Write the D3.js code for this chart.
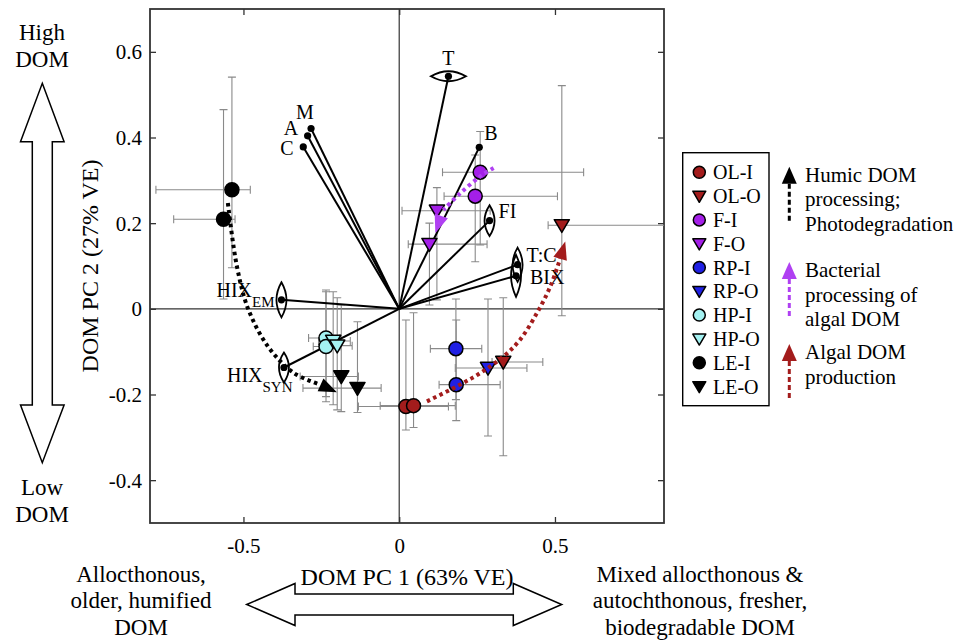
<!DOCTYPE html>
<html>
<head>
<meta charset="utf-8">
<script src="https://cdn.jsdelivr.net/npm/d3@7"></script>
<style>
  body { margin: 0; background: #fff; }
  svg { display: block; }
  text { font-family: "Liberation Serif", "Times New Roman", serif; fill: #000; }
</style>
</head>
<body>
<svg id="chart" width="958" height="640"></svg>
<script>
// ---------- data ----------
const pc1Domain = [-0.8, 0.85];
const pc2Domain = [-0.5, 0.7];
const pc1Ticks = [-0.5, 0, 0.5];
const pc1TickLabels = ["-0.5", "0", "0.5"];
const pc2Ticks = [-0.4, -0.2, 0, 0.2, 0.4, 0.6];
const pc2TickLabels = ["-0.4", "-0.2", "0", "0.2", "0.4", "0.6"];

// site groups (inlet "-I" / outlet "-O")
const groupNames = ["OL-I", "OL-O", "F-I", "F-O", "RP-I", "RP-O", "HP-I", "HP-O", "LE-I", "LE-O"];

// sample scores: mean and error-bar limits on PC1 / PC2
const scoreGroup = ["OL-I", "OL-I", "OL-O", "OL-O", "F-I", "F-I", "F-O", "F-O",
                    "RP-I", "RP-I", "RP-O", "HP-I", "HP-I", "HP-O", "HP-O",
                    "LE-I", "LE-I", "LE-O", "LE-O"];
const scorePC1   = [0.0215, 0.046, 0.334, 0.522, 0.260, 0.244, 0.121, 0.097,
                    0.182, 0.183, 0.285, -0.235, -0.235, -0.212, -0.199,
                    -0.537, -0.564, -0.186, -0.134];
const scorePC2   = [-0.228, -0.226, -0.124, 0.195, 0.319, 0.263, 0.229, 0.151,
                    -0.093, -0.177, -0.138, -0.068, -0.088, -0.075, -0.086,
                    0.278, 0.209, -0.158, -0.185];
const scorePC1Lo = [-0.131, -0.061, 0.298, 0.478, 0.139, 0.144, 0.009, 0.029,
                    0.100, 0.128, 0.180, -0.291, -0.276, -0.259, -0.253,
                    -0.781, -0.724, -0.318, -0.309];
const scorePC1Hi = [0.158, 0.180, 0.461, 0.950, 0.592, 0.508, 0.292, 0.282,
                    0.265, 0.324, 0.410, -0.190, -0.190, -0.157, -0.151,
                    -0.478, -0.527, -0.131, -0.058];
const scorePC2Lo = [-0.283, -0.277, -0.343, -0.016, 0.149, 0.110, 0.021, 0.009,
                    -0.212, -0.261, -0.297, -0.205, -0.217, -0.224, -0.236,
                    0.096, 0.023, -0.240, -0.242];
const scorePC2Hi = [-0.026, -0.009, 0.026, 0.521, 0.414, 0.359, 0.283, 0.200,
                    0.023, -0.026, 0.023, 0.044, 0.040, 0.040, 0.026,
                    0.541, 0.465, 0.009, -0.030];

// DOM metric loadings and their uncertainty
const loadingNames = ["T", "B", "M", "A", "C", "FI", "T:C", "BIX", "HIX_EM", "HIX_SYN"];
const loadingPC1   = [0.158, 0.257, -0.283, -0.294, -0.308, 0.290, 0.380, 0.375, -0.378, -0.370];
const loadingPC2   = [0.543, 0.377, 0.421, 0.404, 0.378, 0.206, 0.103, 0.077, 0.021, -0.137];
const loadingErrPC1 = [0.056, 0, 0, 0, 0, 0, 0, 0, 0, 0];
const loadingErrPC2 = [0, 0, 0, 0, 0, 0.036, 0.040, 0.049, 0.041, 0.035];

// process trajectories (last point is the arrow tip)
const humicPathPC1 = [-0.550, -0.521, -0.484, -0.421, -0.340, -0.254, -0.200];
const humicPathPC2 = [0.247, 0.099, -0.002, -0.088, -0.149, -0.177, -0.195];
const bacterialPathPC1 = [0.303, 0.260, 0.196, 0.142, 0.116];
const bacterialPathPC2 = [0.329, 0.309, 0.270, 0.231, 0.177];
const algalPathPC1 = [0.089, 0.185, 0.260, 0.335, 0.388, 0.442, 0.485, 0.517, 0.533];
const algalPathPC2 = [-0.216, -0.181, -0.150, -0.111, -0.072, -0.010, 0.052, 0.118, 0.157];

const processLabels = [
  ["Humic DOM", "processing;", "Photodegradation"],
  ["Bacterial", "processing of", "algal DOM"],
  ["Algal DOM", "production"]
];

// ---------- styles ----------
const groupFill = { "OL": "#a31c1c", "F": "#a41fe8", "RP": "#2020e4", "HP": "#a4f2f2", "LE": "#000000" };
const processColor = ["#000000", "#b040f2", "#a31c1c"];
const serif = '"Liberation Serif", "Times New Roman", serif';

// ---------- layout ----------
const svg = d3.select("#chart");
svg.append("rect").attr("width", 958).attr("height", 640).attr("fill", "#fff");

const plot = { left: 150, right: 664, top: 9, bottom: 523 };
const x = d3.scaleLinear().domain(pc1Domain).range([plot.left, plot.right]);
const y = d3.scaleLinear().domain(pc2Domain).range([plot.bottom, plot.top]);

svg.append("defs").append("clipPath").attr("id", "plotClip")
  .append("rect")
  .attr("x", plot.left).attr("y", plot.top)
  .attr("width", plot.right - plot.left).attr("height", plot.bottom - plot.top);

// zero lines
svg.append("line")
  .attr("x1", x(0)).attr("x2", x(0)).attr("y1", plot.top).attr("y2", plot.bottom)
  .attr("stroke", "#333").attr("stroke-width", 1.2);
svg.append("line")
  .attr("x1", plot.left).attr("x2", plot.right).attr("y1", y(0)).attr("y2", y(0))
  .attr("stroke", "#333").attr("stroke-width", 1.2);

// axes with inward ticks on all sides
function styleAxis(g) {
  g.select(".domain").remove();
  g.selectAll(".tick line").attr("stroke", "#333").attr("stroke-width", 1.3);
  g.selectAll(".tick text").attr("font-family", serif).attr("font-size", 21).attr("fill", "#000");
}
const xAxisB = svg.append("g").attr("transform", `translate(0,${plot.bottom})`)
  .call(d3.axisBottom(x).tickValues(pc1Ticks).tickSizeInner(-6).tickSizeOuter(0)
        .tickFormat((d, i) => pc1TickLabels[i]));
styleAxis(xAxisB);
xAxisB.selectAll(".tick text").attr("y", 30).attr("dy", 0);

const xAxisT = svg.append("g").attr("transform", `translate(0,${plot.top})`)
  .call(d3.axisTop(x).tickValues(pc1Ticks).tickSizeInner(-6).tickSizeOuter(0).tickFormat(""));
styleAxis(xAxisT);

const yAxisL = svg.append("g").attr("transform", `translate(${plot.left},0)`)
  .call(d3.axisLeft(y).tickValues(pc2Ticks).tickSizeInner(-6).tickSizeOuter(0)
        .tickFormat((d, i) => pc2TickLabels[i]));
styleAxis(yAxisL);
yAxisL.selectAll(".tick text").attr("x", -8).attr("dy", "0.34em");

const yAxisR = svg.append("g").attr("transform", `translate(${plot.right},0)`)
  .call(d3.axisRight(y).tickValues(pc2Ticks).tickSizeInner(-6).tickSizeOuter(0).tickFormat(""));
styleAxis(yAxisR);

// frame
svg.append("rect")
  .attr("x", plot.left).attr("y", plot.top)
  .attr("width", plot.right - plot.left).attr("height", plot.bottom - plot.top)
  .attr("fill", "none").attr("stroke", "#333").attr("stroke-width", 1.8);

// axis titles
svg.append("text")
  .attr("x", (plot.left + plot.right) / 2).attr("y", 585)
  .attr("text-anchor", "middle").attr("font-size", 24)
  .text("DOM PC 1 (63% VE)");
svg.append("text")
  .attr("transform", `translate(98,${(plot.top + plot.bottom) / 2}) rotate(-90)`)
  .attr("text-anchor", "middle").attr("font-size", 24)
  .text("DOM PC 2 (27% VE)");

// ---------- sample scores ----------
const scores = scoreGroup.map((g, i) => ({
  group: g, pc1: scorePC1[i], pc2: scorePC2[i],
  lo1: scorePC1Lo[i], hi1: scorePC1Hi[i], lo2: scorePC2Lo[i], hi2: scorePC2Hi[i]
}));

const errG = svg.append("g").attr("clip-path", "url(#plotClip)")
  .attr("stroke", "#8a8a8a").attr("stroke-width", 1.1).attr("fill", "none");
const cap = 4;
scores.forEach(d => {
  const cx = x(d.pc1), cy = y(d.pc2);
  errG.append("path").attr("d",
    `M${x(d.lo1)},${cy}H${x(d.hi1)}` +
    `M${x(d.lo1)},${cy - cap}V${cy + cap}M${x(d.hi1)},${cy - cap}V${cy + cap}` +
    `M${cx},${y(d.lo2)}V${y(d.hi2)}` +
    `M${cx - cap},${y(d.lo2)}H${cx + cap}M${cx - cap},${y(d.hi2)}H${cx + cap}`);
});

// ---------- loadings ----------
const loadings = loadingNames.map((n, i) => ({
  name: n, pc1: loadingPC1[i], pc2: loadingPC2[i], e1: loadingErrPC1[i], e2: loadingErrPC2[i]
}));
const labelOffset = {
  "T": [0, -11, "middle"], "B": [5, -7, "start"], "M": [-15, -10, "start"],
  "A": [-24, -1, "start"], "C": [-23, 8, "start"], "FI": [9, -3, "start"],
  "T:C": [9, -3, "start"], "BIX": [14, 8, "start"],
  "HIX_EM": [-65, -3, "start"], "HIX_SYN": [-57, 14, "start"]
};

const vecG = svg.append("g");
loadings.forEach(d => {
  vecG.append("line")
    .attr("x1", x(0)).attr("y1", y(0)).attr("x2", x(d.pc1)).attr("y2", y(d.pc2))
    .attr("stroke", "#000").attr("stroke-width", 2);
});
loadings.forEach(d => {
  const cx = x(d.pc1), cy = y(d.pc2), t = 5;
  if (d.e1 > 0) {
    const L = x(d.pc1 + d.e1) - cx;
    vecG.append("path")
      .attr("d", `M${cx - L},${cy}Q${cx},${cy - 2 * t} ${cx + L},${cy}Q${cx},${cy + 2 * t} ${cx - L},${cy}Z`)
      .attr("fill", "none").attr("stroke", "#000").attr("stroke-width", 2);
  }
  if (d.e2 > 0) {
    const L = cy - y(d.pc2 + d.e2);
    vecG.append("path")
      .attr("d", `M${cx},${cy - L}Q${cx + 2 * t},${cy} ${cx},${cy + L}Q${cx - 2 * t},${cy} ${cx},${cy - L}Z`)
      .attr("fill", "none").attr("stroke", "#000").attr("stroke-width", 1.8);
  }
  vecG.append("circle").attr("cx", cx).attr("cy", cy).attr("r", 3.6).attr("fill", "#000");
});
loadings.forEach(d => {
  const off = labelOffset[d.name];
  const parts = d.name.split("_");
  const t = vecG.append("text")
    .attr("x", x(d.pc1) + off[0]).attr("y", y(d.pc2) + off[1])
    .attr("text-anchor", off[2]).attr("font-size", 20);
  t.append("tspan").text(parts[0]);
  if (parts[1]) t.append("tspan").attr("font-size", 15).attr("dy", 10).text(parts[1]);
});

// ---------- score markers ----------
const triPath = s => `M${-s},${-s * 0.75}L${s},${-s * 0.75}L0,${s * 0.95}Z`;
function drawMarker(g, group, cx, cy, r) {
  const key = group.split("-")[0];
  const fill = groupFill[key];
  if (group.endsWith("-I")) {
    g.append("circle").attr("cx", cx).attr("cy", cy).attr("r", r)
      .attr("fill", fill).attr("stroke", "#000").attr("stroke-width", 1.5);
  } else {
    g.append("path").attr("d", triPath(r * 1.08)).attr("transform", `translate(${cx},${cy})`)
      .attr("fill", fill).attr("stroke", "#000").attr("stroke-width", 1.5)
      .attr("stroke-linejoin", "round");
  }
}
const ptG = svg.append("g");
scores.forEach(d => drawMarker(ptG, d.group, x(d.pc1), y(d.pc2), 7));

// ---------- process trajectories ----------
function drawProcess(pc1s, pc2s, color) {
  const pts = pc1s.map((v, i) => [x(v), y(pc2s[i])]);
  const tip = pts[pts.length - 1];
  const base = pts[pts.length - 2];
  const body = pts.slice(0, -1);
  svg.append("path")
    .attr("d", d3.line().curve(d3.curveCatmullRom.alpha(0.5))(body))
    .attr("fill", "none").attr("stroke", color).attr("stroke-width", 4)
    .attr("stroke-dasharray", "3.5,3.5");
  const dx = tip[0] - base[0], dy = tip[1] - base[1];
  const len = Math.hypot(dx, dy), ux = dx / len, uy = dy / len;
  const hl = 18, hw = 7;
  const bx = tip[0] - ux * hl, by = tip[1] - uy * hl;
  svg.append("path")
    .attr("d", `M${tip[0]},${tip[1]}L${bx - uy * hw},${by + ux * hw}L${bx + uy * hw},${by - ux * hw}Z`)
    .attr("fill", color);
}
drawProcess(humicPathPC1, humicPathPC2, processColor[0]);
drawProcess(bacterialPathPC1, bacterialPathPC2, processColor[1]);
drawProcess(algalPathPC1, algalPathPC2, processColor[2]);

// ---------- legend ----------
const leg = svg.append("g");
leg.append("rect").attr("x", 682.7).attr("y", 152.7).attr("width", 86.3).attr("height", 253)
  .attr("fill", "#fff").attr("stroke", "#000").attr("stroke-width", 1.4);
groupNames.forEach((g, i) => {
  const cy = 172.3 + i * 23.8;
  drawMarker(leg, g, 699.3, cy, 6);
  leg.append("text").attr("x", 713).attr("y", cy + 7).attr("font-size", 20).text(g);
});

// process legend
const procTop = [166.7, 262, 344];
processLabels.forEach((lines, k) => {
  const ax = 789.3, tipY = procTop[k];
  leg.append("path")
    .attr("d", `M${ax},${tipY}L${ax + 7.5},${tipY + 17}L${ax - 7.5},${tipY + 17}Z`)
    .attr("fill", processColor[k]);
  leg.append("line")
    .attr("x1", ax).attr("x2", ax).attr("y1", tipY + 17).attr("y2", tipY + 57)
    .attr("stroke", processColor[k]).attr("stroke-width", 3).attr("stroke-dasharray", "5,3");
  lines.forEach((t, j) => {
    leg.append("text").attr("x", 805).attr("y", tipY + 15 + j * 24.5)
      .attr("font-size", 21).text(t);
  });
});

// ---------- interpretive double arrows ----------
const arrowStyle = g => g.attr("fill", "#fff").attr("stroke", "#000").attr("stroke-width", 1.5)
  .attr("stroke-linejoin", "miter");
{
  const cx = 42.3, top = 83.3, hb1 = 141.7, hb2 = 405, bot = 462.7, hw = 21.8, sw = 10;
  svg.append("path").call(arrowStyle).attr("d",
    `M${cx},${top}L${cx + hw},${hb1}L${cx + sw},${hb1}L${cx + sw},${hb2}L${cx + hw},${hb2}` +
    `L${cx},${bot}L${cx - hw},${hb2}L${cx - sw},${hb2}L${cx - sw},${hb1}L${cx - hw},${hb1}Z`);
}
{
  const cy = 604.5, left = 246.7, hb1 = 295, hb2 = 513.3, right = 561.7, hh = 21, sh = 10.4;
  svg.append("path").call(arrowStyle).attr("d",
    `M${left},${cy}L${hb1},${cy - hh}L${hb1},${cy - sh}L${hb2},${cy - sh}L${hb2},${cy - hh}` +
    `L${right},${cy}L${hb2},${cy + hh}L${hb2},${cy + sh}L${hb1},${cy + sh}L${hb1},${cy + hh}Z`);
}

function textBlock(lines, cx, y0, step, size) {
  lines.forEach((t, i) => svg.append("text").attr("x", cx).attr("y", y0 + i * step)
    .attr("text-anchor", "middle").attr("font-size", size).text(t));
}
textBlock(["High", "DOM"], 42, 40, 26.7, 23);
textBlock(["Low", "DOM"], 42, 495, 26.7, 23);
textBlock(["Allocthonous,", "older, humified", "DOM"], 141, 581.7, 26.7, 23);
textBlock(["Mixed allocthonous &", "autochthonous, fresher,", "biodegradable DOM"], 700, 581.7, 26.7, 23);
</script>
</body>
</html>
